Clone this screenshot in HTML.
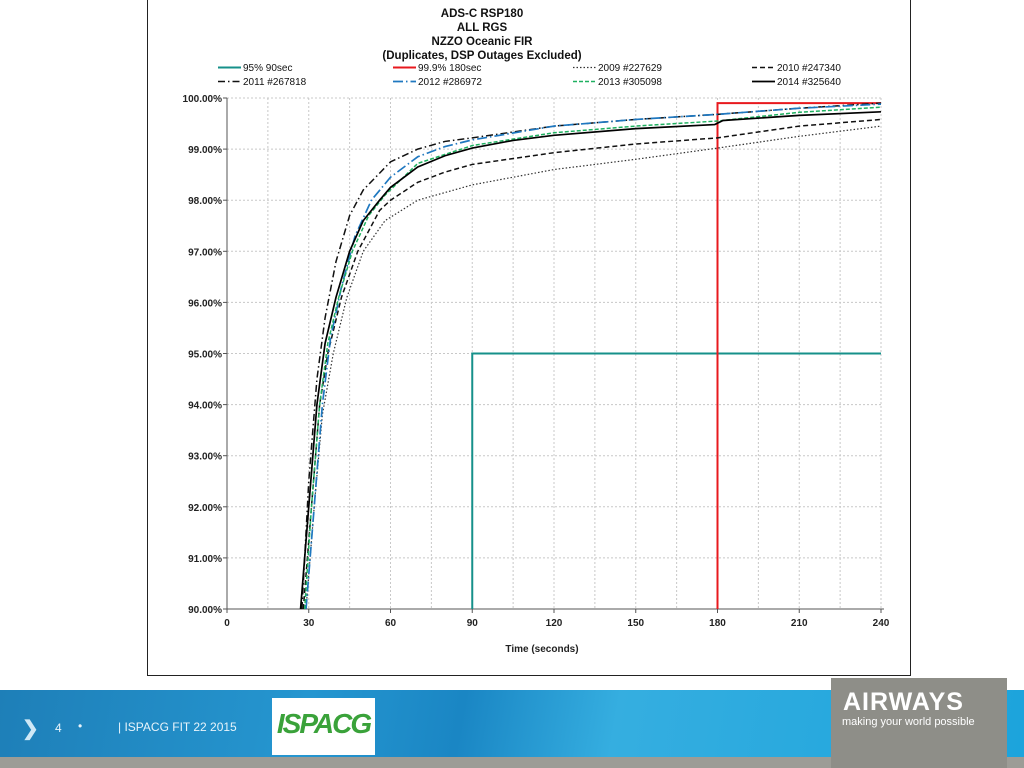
<!DOCTYPE html>
<html><head><meta charset="utf-8"><style>
body{margin:0;width:1024px;height:768px;background:#fff;overflow:hidden;position:relative;font-family:"Liberation Sans",Arial,sans-serif}
#chartbox{position:absolute;left:147px;top:0;width:762px;height:675px;border:1px solid #222;border-top:none;background:#fff}
#footer{position:absolute;left:0;top:690px;width:1024px;height:68px;background:linear-gradient(100deg,#1e7fb8 0%,#2596d0 30%,#1a86c4 45%,#35aee0 60%,#1ca4dc 100%)}
#strip{position:absolute;left:0;top:757px;width:1024px;height:11px;background:#9c9c96}
#airways{position:absolute;left:831px;top:678px;width:176px;height:90px;background:#8e8e88;color:#fff}
</style></head><body>
<div id="chartbox"></div>
<svg id="chart" width="1024" height="680" style="position:absolute;left:0;top:0"></svg>
<div id="footer">
 <div style="position:absolute;left:22px;top:26px;color:#cfe8f6;font-size:20px;font-weight:bold">&#10095;</div>
 <div style="position:absolute;left:55px;top:31px;color:#e8f4fb;font-size:12px">4</div>
 <div style="position:absolute;left:78px;top:29px;color:#e8f4fb;font-size:12px">•</div>
 <div style="position:absolute;left:118px;top:30px;color:#e8f4fb;font-size:12px">| ISPACG FIT 22 2015</div>
 <div style="position:absolute;left:272px;top:8px;width:103px;height:57px;background:#fff;color:#3aa23a;font-weight:bold;font-size:28px;letter-spacing:-2px;text-align:center;line-height:52px;font-style:italic">ISPACG</div>
</div>
<div id="strip"></div>
<div id="airways">
 <div style="position:absolute;left:12px;top:10px;font-size:25px;font-weight:bold;letter-spacing:1px">AIRWAYS</div>
 <div style="position:absolute;left:11px;top:38px;font-size:11px">making your world possible</div>
</div>
<script>
const xTicks=[0,30,60,90,120,150,180,210,240];
const yTicks=[90,91,92,93,94,95,96,97,98,99,100];
const s2009=[[29,90],[32,92],[35,93.8],[39,95],[44,96.1],[50,97],[58,97.6],[70,98.0],[90,98.3],[120,98.6],[150,98.8],[180,99.02],[210,99.25],[240,99.45]];
const s2010=[[28,90],[31,92],[34,94],[37,95],[42,96.1],[48,97],[56,97.8],[60,98.0],[70,98.35],[80,98.55],[90,98.7],[120,98.93],[150,99.1],[180,99.22],[210,99.45],[240,99.58]];
const s2011=[[27.5,90],[30,92.5],[33,94.5],[36,95.7],[40,96.8],[45,97.7],[50,98.2],[60,98.75],[70,99.0],[80,99.15],[90,99.22],[120,99.45],[150,99.58],[180,99.68],[210,99.8],[240,99.9]];
const s2012=[[29,90],[32,92],[35,94],[38,95.3],[42,96.3],[47,97.3],[53,98.0],[60,98.45],[70,98.85],[80,99.05],[90,99.18],[120,99.45],[150,99.58],[180,99.68],[210,99.8],[240,99.88]];
const s2013=[[28.5,90],[31,92],[34,94],[37,95.2],[41,96.1],[46,97],[52,97.7],[58,98.1],[70,98.72],[90,99.07],[120,99.32],[150,99.45],[180,99.55],[210,99.72],[240,99.82]];
const s2014=[[27,90],[30,92],[33,94],[36,95.2],[40,96.1],[45,97],[50,97.6],[56,98],[60,98.25],[70,98.65],[80,98.87],[90,99.02],[105,99.17],[120,99.27],[150,99.4],[179,99.48],[182,99.56],[210,99.66],[240,99.73]];
const ref95=[[90,90],[90,95],[240,95]];
const ref999=[[180,90],[180,99.9],[240,99.9]];
const X0=227,X1=881,Y0=98,Y1=609;
const xs=t=>X0+t/240*(X1-X0);
const ys=v=>Y1-(v-90)/10*(Y1-Y0);
const svg=document.getElementById('chart');const NS='http://www.w3.org/2000/svg';
function mk(tag,attrs,parent){const e=document.createElementNS(NS,tag);for(const k in attrs)e.setAttribute(k,attrs[k]);(parent||svg).appendChild(e);return e;}
for(let t=15;t<=240;t+=15){const g=mk('line',{x1:xs(t),x2:xs(t),y1:Y0,y2:Y1,stroke:'#c8c8c8','stroke-dasharray':'2,2'});

}
yTicks.forEach(v=>{if(v>90){const g=mk('line',{x1:X0,x2:X1,y1:ys(v),y2:ys(v),stroke:'#c8c8c8','stroke-dasharray':'2,2'});

}});
mk('line',{x1:X0,x2:X0,y1:Y0,y2:Y1,stroke:'#555'});mk('line',{x1:X0,x2:X1+3,y1:Y1,y2:Y1,stroke:'#555'});
xTicks.forEach(t=>{mk('line',{x1:xs(t),x2:xs(t),y1:Y1,y2:Y1+4,stroke:'#555'});
const tx=mk('text',{x:xs(t),y:Y1+17,'text-anchor':'middle','font-size':'10','font-weight':'bold',fill:'#222'});tx.textContent=t;

});
yTicks.forEach(v=>{mk('line',{x1:X0-4,x2:X0,y1:ys(v),y2:ys(v),stroke:'#555'});
const tx=mk('text',{x:X0-5,y:ys(v)+4,'text-anchor':'end','font-size':'10','font-weight':'bold',fill:'#222'});tx.textContent=v.toFixed(2)+'%';

});
const xt=mk('text',{x:542,y:652,'text-anchor':'middle','font-size':'10','font-weight':'bold',fill:'#222'});xt.textContent='Time (seconds)';


['ADS-C  RSP180','ALL  RGS','NZZO Oceanic FIR','(Duplicates, DSP Outages Excluded)'].forEach((s,i)=>{const t=mk('text',{x:482,y:17+i*14,'text-anchor':'middle','font-size':'11.5','font-weight':'bold',fill:'#111'});t.textContent=s;

});
const series=[
 {d:ref95,c:'#16908a',w:2,da:'',n:'95%  90sec',lx:218,ly:71},
 {d:ref999,c:'#e8191e',w:2,da:'',n:'99.9%  180sec',lx:393,ly:71},
 {d:s2009,c:'#333',w:1.2,da:'1.5,2',n:'2009 #227629',lx:573,ly:71},
 {d:s2010,c:'#111',w:1.5,da:'5,3',n:'2010 #247340',lx:752,ly:71},
 {d:s2011,c:'#111',w:1.5,da:'7,3,1.5,3',n:'2011 #267818',lx:218,ly:85},
 {d:s2012,c:'#1f78c0',w:1.7,da:'10,3,1.5,3',n:'2012 #286972',lx:393,ly:85},
 {d:s2013,c:'#1fb060',w:1.5,da:'4,2',n:'2013 #305098',lx:573,ly:85},
 {d:s2014,c:'#000',w:1.7,da:'',n:'2014 #325640',lx:752,ly:85}];
series.forEach(s=>{const p=mk('polyline',{points:s.d.map(q=>xs(q[0])+','+ys(q[1])).join(' '),fill:'none',stroke:s.c,'stroke-width':s.w,'stroke-dasharray':s.da});


const g=mk('g',{});


mk('line',{x1:s.lx,x2:s.lx+23,y1:s.ly-3.5,y2:s.ly-3.5,stroke:s.c,'stroke-width':s.w,'stroke-dasharray':s.da},g);
const t=mk('text',{x:s.lx+25,y:s.ly,'font-size':'10',fill:'#111'},g);t.textContent=s.n;});
</script>
</body></html>
